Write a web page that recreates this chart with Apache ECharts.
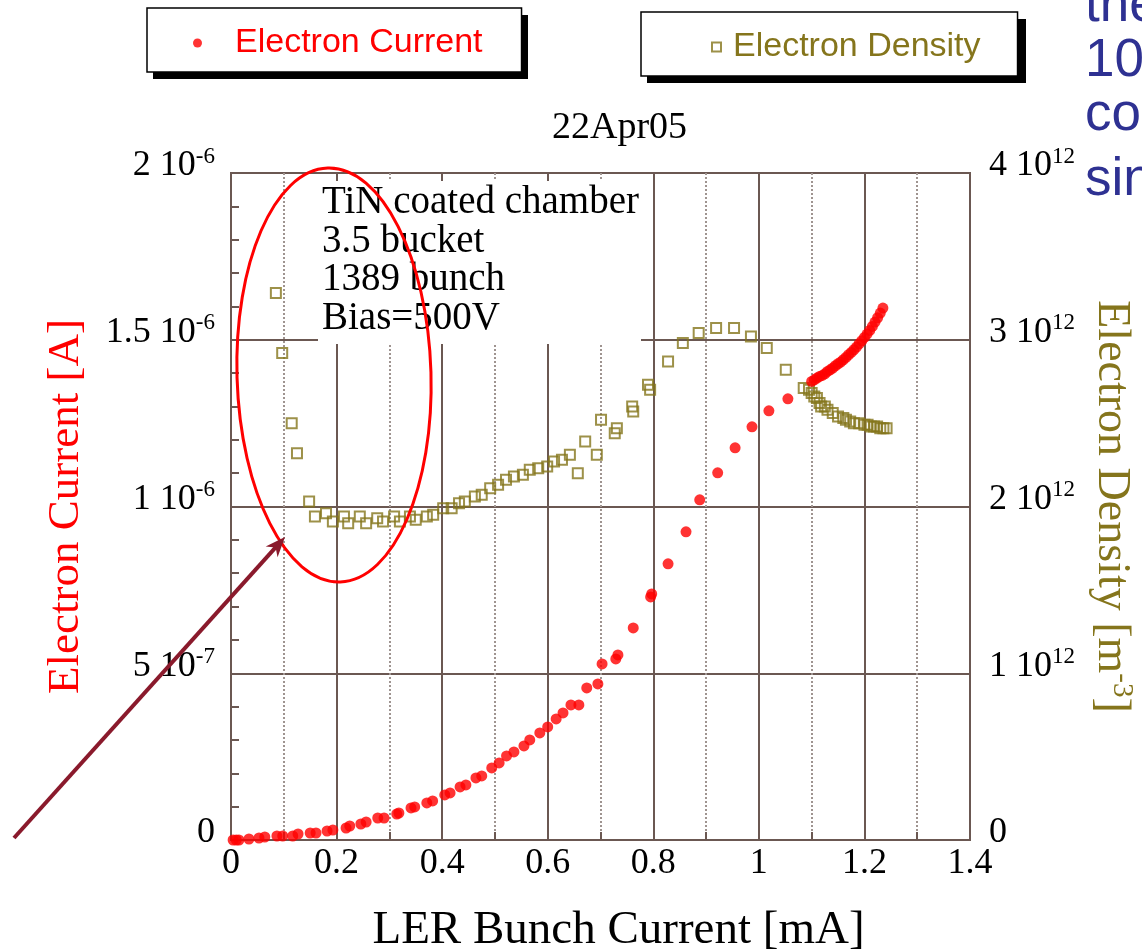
<!DOCTYPE html>
<html>
<head>
<meta charset="utf-8">
<script src="https://cdn.jsdelivr.net/npm/echarts@6.0.0/dist/echarts.min.js"></script>
<style>
  html, body { margin: 0; padding: 0; background: #fff; }
  #chart { width: 1142px; height: 952px; }
</style>
</head>
<body>
<div id="chart"></div>
<script>
// LER bunch current [mA] vs electron current [10^-6 A]
const currentData = [
  [0.004, 0.000], [0.010, 0.000], [0.015, 0.000], [0.034, 0.003], [0.053, 0.006],
  [0.064, 0.009], [0.087, 0.012], [0.098, 0.012], [0.117, 0.012], [0.127, 0.018],
  [0.150, 0.021], [0.161, 0.021], [0.182, 0.027], [0.193, 0.030], [0.218, 0.036],
  [0.225, 0.042], [0.246, 0.048], [0.256, 0.054], [0.278, 0.066], [0.290, 0.066],
  [0.314, 0.078], [0.318, 0.081], [0.341, 0.096], [0.348, 0.099], [0.371, 0.111],
  [0.382, 0.117], [0.405, 0.135], [0.415, 0.141], [0.434, 0.159], [0.445, 0.165],
  [0.464, 0.186], [0.475, 0.192], [0.494, 0.216], [0.508, 0.231], [0.522, 0.252],
  [0.536, 0.264], [0.555, 0.282], [0.566, 0.300], [0.585, 0.321], [0.600, 0.339],
  [0.616, 0.363], [0.629, 0.381], [0.644, 0.405], [0.659, 0.405], [0.674, 0.456],
  [0.695, 0.468], [0.703, 0.528], [0.729, 0.543], [0.733, 0.555], [0.762, 0.636],
  [0.795, 0.729], [0.797, 0.738], [0.828, 0.828], [0.862, 0.924], [0.888, 1.020],
  [0.922, 1.101], [0.955, 1.176], [0.987, 1.239], [1.019, 1.287], [1.055, 1.323],
  [1.100, 1.375], [1.105, 1.380], [1.110, 1.385], [1.115, 1.390], [1.120, 1.393],
  [1.125, 1.398], [1.130, 1.405], [1.135, 1.410], [1.140, 1.415], [1.145, 1.422],
  [1.150, 1.428], [1.155, 1.433], [1.160, 1.440], [1.165, 1.447], [1.170, 1.455],
  [1.175, 1.462], [1.180, 1.470], [1.185, 1.478], [1.190, 1.488], [1.195, 1.497],
  [1.200, 1.507], [1.205, 1.517], [1.210, 1.528], [1.215, 1.540], [1.220, 1.553],
  [1.225, 1.566], [1.230, 1.580], [1.235, 1.595]
];

// LER bunch current [mA] vs electron density [10^12 m^-3]
const densityData = [
  [0.085, 3.28], [0.097, 2.92], [0.115, 2.50], [0.125, 2.32], [0.148, 2.03],
  [0.159, 1.94], [0.180, 1.96], [0.193, 1.91], [0.214, 1.94], [0.222, 1.90],
  [0.244, 1.94], [0.256, 1.90], [0.277, 1.93], [0.288, 1.91], [0.309, 1.94],
  [0.320, 1.91], [0.339, 1.94], [0.350, 1.92], [0.371, 1.94], [0.383, 1.95],
  [0.402, 1.99], [0.418, 1.99], [0.432, 2.02], [0.443, 2.03], [0.462, 2.06],
  [0.475, 2.07], [0.491, 2.11], [0.506, 2.13], [0.521, 2.16], [0.536, 2.18],
  [0.553, 2.19], [0.566, 2.22], [0.582, 2.23], [0.599, 2.24], [0.612, 2.27],
  [0.627, 2.28], [0.642, 2.31], [0.657, 2.20], [0.671, 2.39], [0.693, 2.31],
  [0.701, 2.52], [0.727, 2.44], [0.731, 2.47], [0.760, 2.60], [0.762, 2.57],
  [0.790, 2.73], [0.794, 2.70], [0.828, 2.87], [0.856, 2.98], [0.886, 3.04],
  [0.919, 3.07], [0.953, 3.07], [0.985, 3.02], [1.015, 2.95], [1.051, 2.82],
  [1.085, 2.71], [1.095, 2.70], [1.100, 2.68], [1.105, 2.66], [1.110, 2.65],
  [1.115, 2.62], [1.118, 2.60], [1.125, 2.60], [1.130, 2.58], [1.140, 2.56],
  [1.150, 2.54], [1.160, 2.53], [1.165, 2.52], [1.173, 2.51], [1.180, 2.50],
  [1.190, 2.50], [1.200, 2.49], [1.206, 2.49], [1.212, 2.48], [1.218, 2.48],
  [1.224, 2.48], [1.230, 2.47], [1.236, 2.47], [1.242, 2.47]
];

const xTickLabels = ['0', '0.2', '0.4', '0.6', '0.8', '1', '1.2', '1.4'];
const currentTickLabels = ['0', '5 10{s|-7}', '1 10{s|-6}', '1.5 10{s|-6}', '2 10{s|-6}'];
const densityTickLabels = ['0', '1 10{s|12}', '2 10{s|12}', '3 10{s|12}', '4 10{s|12}'];
const runInfo = ['TiN coated chamber', '3.5 bucket', '1389 bunch', 'Bias=500V'];
const sideNote = ['the', '10', 'cor', 'sin'];

const SERIF = '"Liberation Serif", "Times New Roman", serif';
const SANS = '"Liberation Sans", Arial, sans-serif';
const FRAME = '#6b5852';
const DOTTED = '#9f9490';
const RED = '#ff0000';
const OLIVE = '#85751c';
const NAVY = '#2e3192';

const supStyle = (size, color) => ({
  s: { fontSize: size, fontFamily: SERIF, color: color, verticalAlign: 'top', lineHeight: size }
});

const frameLine = { lineStyle: { color: FRAME, width: 2 } };

// legend boxes: [name, left, top, width, height, padding, spacer, color]
const legendBoxes = [
  ['Electron Current', 147, 8, 375, 64, [15, 39, 9, 46], 28, RED],
  ['Electron Density', 641, 12, 379, 64, [15, 37, 9, 70], 7, OLIVE]
];

function legendOption(b) {
  return {
    data: [b[0]],
    left: b[1],
    top: b[2],
    orient: 'horizontal',
    padding: b[5],
    itemWidth: 9,
    itemHeight: 9,
    selectedMode: false,
    backgroundColor: '#fff',
    borderColor: '#000',
    borderWidth: 1.5,
    formatter: n => '{g| }' + n,
    textStyle: {
      color: b[7],
      fontFamily: SANS,
      fontSize: 34,
      lineHeight: 40,
      rich: { g: { width: b[6] } }
    }
  };
}

// Arrow pointing at the low-current density region
const arrowFrom = [14, 838];
const arrowTo = [285, 537];
const dx = arrowTo[0] - arrowFrom[0], dy = arrowTo[1] - arrowFrom[1];
const len = Math.hypot(dx, dy), ux = dx / len, uy = dy / len;
const head = [
  arrowTo,
  [arrowTo[0] - 20 * ux + 8 * uy, arrowTo[1] - 20 * uy - 8 * ux],
  [arrowTo[0] - 14 * ux, arrowTo[1] - 14 * uy],
  [arrowTo[0] - 20 * ux - 8 * uy, arrowTo[1] - 20 * uy + 8 * ux]
];

const graphics = [
  // drop shadows of the two legend boxes
  ...legendBoxes.map(b => ({
    type: 'rect', z: 0, shape: { x: b[1] + 6, y: b[2] + 7, width: b[3], height: b[4] },
    style: { fill: '#000' }
  })),
  // white panel behind the run conditions
  { type: 'rect', z: 1, shape: { x: 318, y: 181, width: 323, height: 163 }, style: { fill: '#fff' } },
  ...runInfo.map((t, i) => ({
    type: 'text', z: 20, x: 322, y: 203 + i * 38.5,
    style: { text: t, font: '39px ' + SERIF, fill: '#000',
             textAlign: 'left', align: 'left', textVerticalAlign: 'middle', verticalAlign: 'middle' }
  })),
  { type: 'ellipse', z: 20, x: 334, y: 375, rotation: 0.03,
    shape: { cx: 0, cy: 0, rx: 97, ry: 207 },
    style: { fill: 'none', stroke: RED, lineWidth: 3 } },
  { type: 'line', z: 20,
    shape: { x1: arrowFrom[0], y1: arrowFrom[1], x2: arrowTo[0] - 12 * ux, y2: arrowTo[1] - 12 * uy },
    style: { stroke: '#8a1a2c', lineWidth: 4 } },
  { type: 'polygon', z: 20, shape: { points: head }, style: { fill: '#8a1a2c' } },
  ...sideNote.map((t, i) => ({
    type: 'text', z: 20, x: 1085, y: [6, 61, 115, 180][i],
    style: { text: t, font: '53px ' + SANS, fill: NAVY,
             textAlign: 'left', align: 'left', textVerticalAlign: 'middle', verticalAlign: 'middle' }
  }))
];

const chart = echarts.init(document.getElementById('chart'), null, { renderer: 'canvas' });
chart.setOption({
  animation: false,
  backgroundColor: '#fff',
  title: {
    text: '22Apr05',
    left: 552,
    top: 109,
    padding: 0,
    textStyle: { fontFamily: SERIF, fontSize: 38, fontWeight: 'normal', color: '#000' }
  },
  legend: legendBoxes.map(legendOption),
  grid: {
    left: 231, right: 172, top: 173, bottom: 112,
    outerBoundsMode: 'none',
    containLabel: false,
    show: true, borderColor: FRAME, borderWidth: 2, backgroundColor: 'transparent'
  },
  xAxis: {
    type: 'value',
    min: 0, max: 1.4, interval: 0.2,
    name: 'LER Bunch Current [mA]',
    nameLocation: 'middle',
    nameGap: 67,
    nameTextStyle: { fontFamily: SERIF, fontSize: 47, color: '#000', padding: [0, 0, 0, 36] },
    axisLine: { show: true, onZero: false, ...frameLine },
    axisTick: { show: true, inside: true, length: 8, ...frameLine },
    minorTick: { show: true, splitNumber: 2, length: 8, ...frameLine },
    splitLine: { show: true, ...frameLine },
    minorSplitLine: { show: true, lineStyle: { color: DOTTED, width: 2, type: [2, 2] } },
    axisLabel: {
      formatter: (v, i) => xTickLabels[i],
      fontFamily: SERIF, fontSize: 36, color: '#000', margin: 6
    }
  },
  yAxis: [
    {
      type: 'value',
      position: 'left',
      min: 0, max: 2, interval: 0.5,
      name: 'Electron Current [A]',
      nameLocation: 'middle',
      nameRotate: 90,
      nameGap: 142,
      nameTextStyle: { fontFamily: SERIF, fontSize: 45, color: RED },
      axisLine: { show: true, onZero: false, ...frameLine },
      axisTick: { show: true, inside: true, length: 8, ...frameLine },
      minorTick: { show: true, splitNumber: 5, length: 8, ...frameLine },
      splitLine: { show: true, ...frameLine },
      axisLabel: {
        formatter: (v, i) => currentTickLabels[i],
        fontFamily: SERIF, fontSize: 36, lineHeight: 42, color: '#000',
        margin: 16, padding: [0, 0, 14, 0],
        rich: supStyle(23, '#000')
      }
    },
    {
      type: 'value',
      position: 'right',
      min: 0, max: 4, interval: 1,
      name: 'Electron Density [m{s|-3}]',
      nameLocation: 'middle',
      nameRotate: -90,
      nameGap: 113,
      nameTextStyle: { fontFamily: SERIF, fontSize: 46, lineHeight: 50, color: OLIVE, rich: supStyle(29, OLIVE) },
      axisLine: { show: true, onZero: false, ...frameLine },
      axisTick: { show: false },
      splitLine: { show: false },
      axisLabel: {
        formatter: (v, i) => densityTickLabels[i],
        fontFamily: SERIF, fontSize: 36, lineHeight: 42, color: '#000',
        margin: 19, padding: [0, 0, 14, 0],
        rich: supStyle(23, '#000')
      }
    }
  ],
  series: [
    {
      name: 'Electron Density',
      type: 'scatter',
      yAxisIndex: 1,
      data: densityData,
      symbol: 'rect',
      symbolSize: 10,
      itemStyle: { color: 'rgba(0,0,0,0)', borderColor: OLIVE, borderWidth: 2 },
      z: 3,
      silent: true
    },
    {
      name: 'Electron Current',
      type: 'scatter',
      yAxisIndex: 0,
      data: currentData,
      symbol: 'circle',
      symbolSize: 11,
      itemStyle: { color: RED },
      z: 4,
      silent: true
    }
  ],
  graphic: { elements: graphics }
});
</script>
</body>
</html>
